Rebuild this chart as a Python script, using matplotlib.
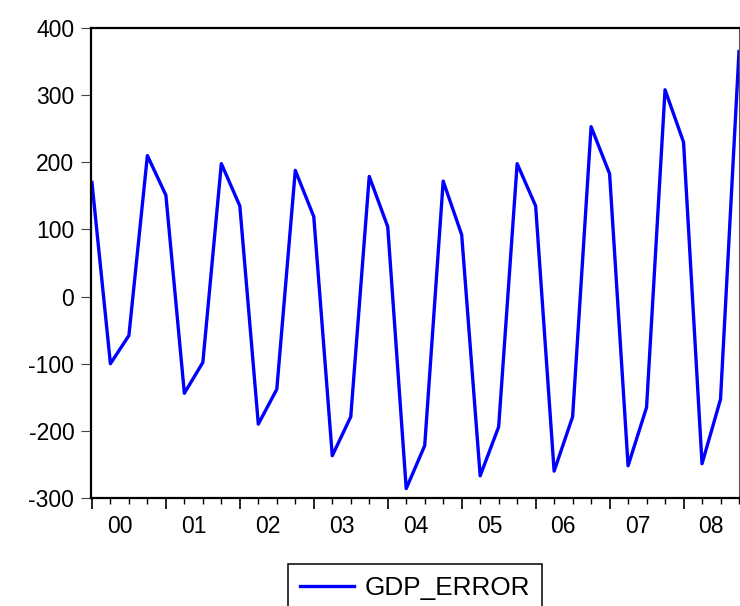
import matplotlib
matplotlib.use("Agg")
import matplotlib.pyplot as plt
import numpy as np

# quarterly GDP_ERROR, 2000Q1 .. 2008Q4
gdp_error = [170, -100, -58, 210,
             151, -144, -98, 198,
             135, -190, -138, 188,
             119, -237, -179, 179,
             104, -286, -222, 172,
             92, -267, -194, 198,
             135, -260, -179, 253,
             183, -252, -165, 308,
             230, -249, -153, 365]
year_labels = ["00", "01", "02", "03", "04", "05", "06", "07", "08"]
y_ticks = [-300, -200, -100, 0, 100, 200, 300, 400]

plt.rcParams['font.family'] = ['Liberation Sans', 'DejaVu Sans']

quarters = np.arange(len(gdp_error))

fig = plt.figure(figsize=(7.4, 6.06), dpi=100)
ax = fig.add_axes([91 / 740, 1 - 498 / 606, 648 / 740, 470 / 606])

ax.plot(quarters, gdp_error, color=(0, 0, 1), lw=2.4, label="GDP_ERROR")

ax.set_xlim(-0.05, len(gdp_error) - 1)
ax.set_ylim(-300, 400)

ax.set_yticks(y_ticks)
ax.set_yticklabels([str(v) for v in y_ticks], fontsize=16.5)
ax.tick_params(axis='y', direction='out', length=7, width=0.8,
               color='#444444', pad=5)

# year boundaries as major ticks, quarters as minor ticks
ax.set_xticks(np.arange(0, len(gdp_error), 4))
ax.set_xticklabels([])
ax.set_xticks(quarters, minor=True)
ax.tick_params(axis='x', which='major', direction='out', length=8, width=1.2)
ax.tick_params(axis='x', which='minor', direction='out', length=4.3, width=1.0)

for i, lab in enumerate(year_labels):
    ax.text(4 * i + 1.5, -0.06, lab, transform=ax.get_xaxis_transform(),
            ha='center', va='center', fontsize=16.5)

for side in ['left', 'bottom', 'top']:
    ax.spines[side].set_linewidth(1.6)
    ax.spines[side].set_color('black')
ax.spines['right'].set_linewidth(0.8)
ax.spines['right'].set_color('#555555')

leg = fig.legend(loc='upper center', bbox_to_anchor=(415 / 740, 1 - 564 / 606),
                 fontsize=18.8, frameon=True, fancybox=False, framealpha=1,
                 edgecolor='black', handlelength=2.1, handletextpad=0.4,
                 borderpad=0.45, borderaxespad=0)
leg.get_frame().set_linewidth(1.1)

fig.savefig("out.png", dpi=100)
